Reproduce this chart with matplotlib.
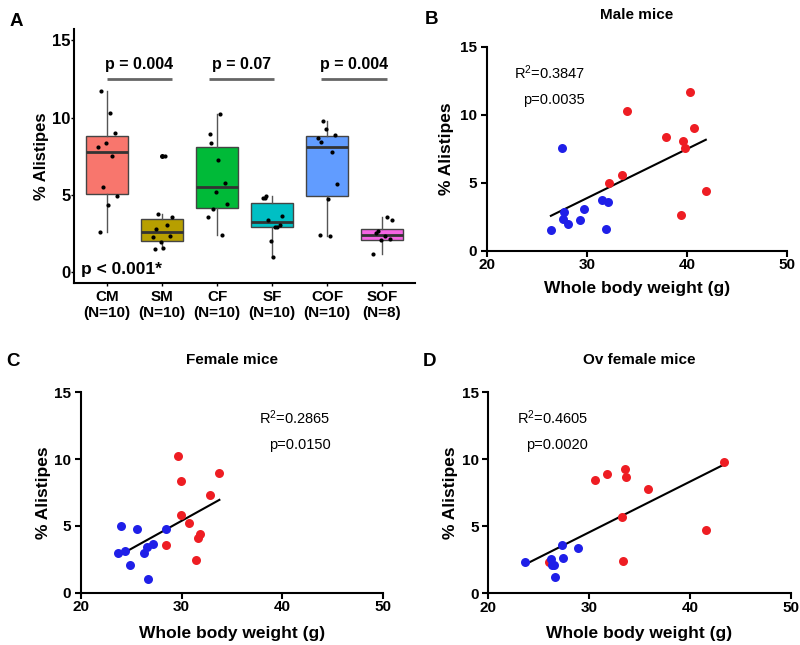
import matplotlib
matplotlib.use('Agg')
import matplotlib.pyplot as plt
import numpy as np

plt.rcParams['font.family'] = ['Liberation Sans', 'DejaVu Sans']
plt.rcParams['mathtext.default'] = 'regular'

# ---------------- data ----------------
groups = ['CM', 'SM', 'CF', 'SF', 'COF', 'SOF']

# Male mice: control (red) and second group (blue)
cm_weight = [33.97, 40.29, 40.69, 37.89, 39.55, 39.79, 33.47, 32.20, 41.88, 39.39]
cm_pct    = [10.30, 11.70, 9.00, 8.38, 8.08, 7.52, 5.54, 4.95, 4.37, 2.64]
sm_weight = [27.48, 27.65, 27.60, 28.08, 29.31, 29.74, 31.54, 32.14, 31.87, 26.39]
sm_pct    = [7.54, 2.84, 2.35, 1.97, 2.28, 3.06, 3.76, 3.60, 1.60, 1.50]

# Female mice
cf_weight = [29.68, 29.94, 29.94, 30.74, 28.42, 31.44, 31.67, 31.83, 32.83, 33.76]
cf_pct    = [10.22, 8.35, 5.79, 5.20, 3.60, 2.44, 4.12, 4.42, 7.30, 8.98]
sf_weight = [23.71, 23.94, 24.38, 24.87, 25.60, 26.30, 26.53, 27.19, 26.70, 28.42]
sf_pct    = [2.97, 4.97, 3.10, 2.06, 4.80, 2.97, 3.40, 3.65, 1.00, 4.80]

# Ovariectomised female mice
cof_weight = [26.02, 30.59, 31.74, 33.56, 33.66, 35.88, 43.39, 33.23, 41.60, 33.33]
cof_pct    = [2.34, 8.42, 8.87, 9.25, 8.68, 7.76, 9.80, 5.72, 4.72, 2.40]
sof_weight = [23.64, 26.19, 26.29, 26.52, 26.62, 27.34, 27.44, 28.87]
sof_pct    = [2.33, 2.53, 2.14, 2.10, 1.22, 3.60, 2.65, 3.40]

pair_pvalues = ['p = 0.004', 'p = 0.07', 'p = 0.004']
overall_p = 'p < 0.001*'
panel_stats = {
    'B': ('Male mice', 'R$^2$=0.3847', 'p=0.0035'),
    'C': ('Female mice', 'R$^2$=0.2865', 'p=0.0150'),
    'D': ('Ov female mice', 'R$^2$=0.4605', 'p=0.0020'),
}

# ---------------- style ----------------
box_colors = ['#F8766D', '#B79F00', '#00BA38', '#00BFC4', '#619CFF', '#F564E3']
RED = '#EE1D23'
BLUE = '#1F1FE8'
W, H = 800, 645

fig = plt.figure(figsize=(8, 6.45), dpi=100)


def frac(x0, y_top, x1, y_bot):
    return [x0 / W, (H - y_bot) / H, (x1 - x0) / W, (y_bot - y_top) / H]


axA = fig.add_axes(frac(74, 29, 415, 283))
axB = fig.add_axes(frac(487, 46.7, 787, 250.7))
axC = fig.add_axes(frac(81, 392.3, 382.7, 592.7))
axD = fig.add_axes(frac(488.3, 392.3, 790.7, 593.3))

# ---------------- panel A ----------------
values = [cm_pct, sm_pct, cf_pct, sf_pct, cof_pct, sof_pct]
pos = np.arange(len(groups))
bp = axA.boxplot(values, positions=pos, widths=0.75, patch_artist=True,
                 showcaps=False, whis=1.5,
                 medianprops=dict(color='#333333', lw=2),
                 boxprops=dict(edgecolor='#444444', lw=1),
                 whiskerprops=dict(color='#555555', lw=1),
                 flierprops=dict(marker='o', markerfacecolor='black',
                                 markeredgecolor='none', markersize=3.6))
for patch, c in zip(bp['boxes'], box_colors):
    patch.set_facecolor(c)

for i, v in enumerate(values):
    n = len(v)
    offs = (((np.arange(n) + 1) * 0.618034) % 1 - 0.5) * 0.4
    axA.scatter(i + offs, v, s=9, c='black', zorder=4, linewidths=0)

brackets = [(0.0, 1.18), (1.86, 3.04), (3.89, 5.09)]
for (a, b), ptxt in zip(brackets, pair_pvalues):
    axA.plot([a, b], [12.5, 12.5], color='#666666', lw=2, solid_capstyle='butt')
    axA.text((a + b) / 2, 13.45, ptxt, ha='center', va='center',
             fontsize=11.5, fontweight='bold')
axA.text(-0.47, 0.18, overall_p, ha='left', va='center', fontsize=12.5,
         fontweight='bold')

axA.set_xlim(-0.6, 5.6)
axA.set_ylim(-0.68, 15.74)
axA.set_yticks([0, 5, 10, 15])
axA.set_xticks(pos)
axA.set_xticklabels([f'{g}\n(N={len(v)})' for g, v in zip(groups, values)],
                    fontsize=11, fontweight='bold', linespacing=1.15)
for lab in axA.get_yticklabels():
    lab.set_fontweight('bold')
    lab.set_fontsize(12)
axA.tick_params(axis='y', length=2, width=1, pad=0.5)
axA.tick_params(axis='x', length=2, width=1, pad=3)
for s in ['top', 'right']:
    axA.spines[s].set_visible(False)
for s in ['left', 'bottom']:
    axA.spines[s].set_linewidth(1.5)
axA.set_ylabel('% Alistipes', fontsize=12, fontweight='bold', va='center')
axA.yaxis.set_label_coords(-32 / 341, 0.5)

# ---------------- scatter panels ----------------
def scatter_panel(ax, xr, yr, xb, yb, key, text_x, ylab_off, xlab_off):
    title, r2, p = panel_stats[key]
    ax.scatter(xr, yr, s=42, c=RED, linewidths=0, zorder=3, clip_on=False)
    ax.scatter(xb, yb, s=42, c=BLUE, linewidths=0, zorder=4, clip_on=False)
    allx = np.r_[xr, xb]
    ally = np.r_[yr, yb]
    k, b = np.polyfit(allx, ally, 1)
    xs = np.array([allx.min(), allx.max()])
    ax.plot(xs, k * xs + b, color='black', lw=1.5, zorder=2)
    ax.set_xlim(20, 50)
    ax.set_ylim(0, 15)
    ax.set_xticks([20, 30, 40, 50])
    ax.set_yticks([0, 5, 10, 15])
    for s in ['top', 'right']:
        ax.spines[s].set_visible(False)
    for s in ['left', 'bottom']:
        ax.spines[s].set_linewidth(1.5)
    ax.tick_params(axis='both', length=4, width=1.5, labelsize=11)
    ax.tick_params(axis='x', pad=1.5)
    ax.tick_params(axis='y', pad=3)
    for lab in ax.get_xticklabels() + ax.get_yticklabels():
        lab.set_fontweight('bold')
    ax.set_ylabel('% Alistipes', fontsize=12.5, fontweight='bold', va='center')
    ax.yaxis.set_label_coords(ylab_off, 0.5)
    ax.set_xlabel('Whole body weight (g)', fontsize=12.5, fontweight='bold',
                  va='center')
    ax.xaxis.set_label_coords(0.5, xlab_off)
    ax.annotate(title, xy=(0.5, 1), xycoords='axes fraction', xytext=(0, 23),
                textcoords='offset points', ha='center', va='center',
                fontsize=11, fontweight='bold')
    ax.text(text_x, 13.1, r2, ha='right', va='center', fontsize=10.5)
    ax.text(text_x, 11.05, p, ha='right', va='center', fontsize=10.5)


scatter_panel(axB, cm_weight, cm_pct, sm_weight, sm_pct, 'B', 29.8,
              -41 / 300, -37.3 / 204)
scatter_panel(axC, cf_weight, cf_pct, sf_weight, sf_pct, 'C', 44.8,
              -37.7 / 301.7, -40.6 / 200.4)
scatter_panel(axD, cof_weight, cof_pct, sof_weight, sof_pct, 'D', 29.9,
              -38 / 302.4, -40 / 201)

# panel letters
for lab, (x, y) in zip('ABCD', [(16, 21), (432, 20), (13, 362), (430, 362)]):
    fig.text(x / W, 1 - y / H, lab, ha='center', va='center', fontsize=13.5,
             fontweight='bold')

fig.savefig('out.png', dpi=100)
